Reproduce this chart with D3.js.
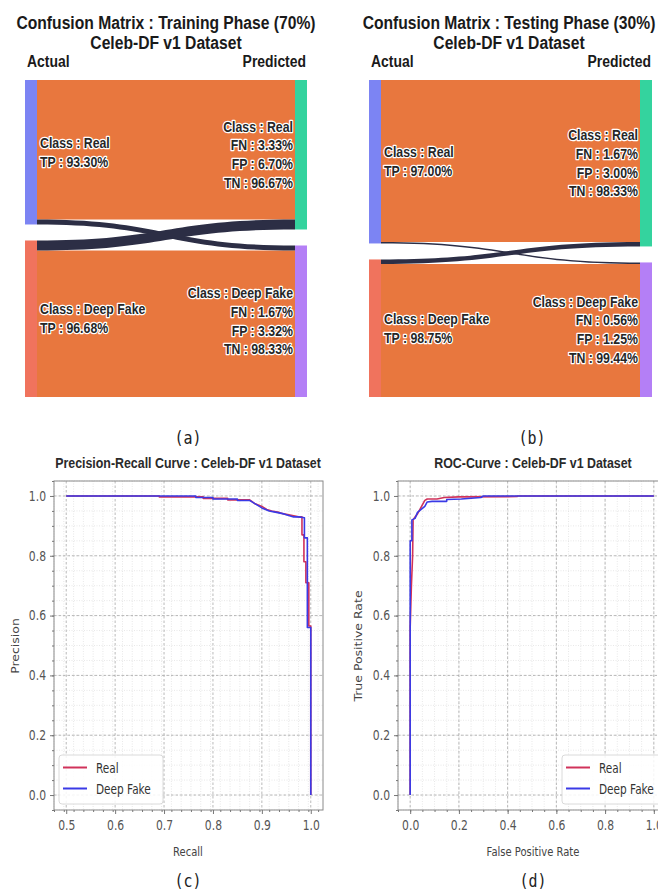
<!DOCTYPE html>
<html>
<head>
<meta charset="utf-8">
<script src="https://cdn.jsdelivr.net/npm/d3@7"></script>
<style>
  body { margin: 0; background: #fff; }
  svg { display: block; }
</style>
</head>
<body>
<svg id="fig" width="658" height="893"></svg>
<script>
// ---- confusion "sankey" data (band sizes) ----
var classes = ["Real", "Deep Fake"];
// flows[actual][predicted]
var trainFlows = [[139, 5], [10, 146]];
var testFlows = [[162.5, 1.5], [4.5, 133.5]];
var trainActual = ["TP : 93.30%", "TP : 96.68%"];
var trainPred = [["FN : 3.33%", "FP : 6.70%", "TN : 96.67%"],
                 ["FN : 1.67%", "FP : 3.32%", "TN : 98.33%"]];
var testActual = ["TP : 97.00%", "TP : 98.75%"];
var testPred = [["FN : 1.67%", "FP : 3.00%", "TN : 98.33%"],
                ["FN : 0.56%", "FP : 1.25%", "TN : 99.44%"]];

// ---- precision-recall curve ----
var prRealRecall = [0.5, 0.69, 0.69, 0.78, 0.78, 0.83, 0.83, 0.875, 0.885, 0.9, 0.91, 0.92, 0.935, 0.945, 0.96, 0.975, 0.982, 0.982, 0.986, 0.986, 0.99, 0.99, 0.996, 0.996, 1.0, 1.0];
var prRealPrecision = [1.0, 1.0, 0.997, 0.997, 0.992, 0.992, 0.987, 0.987, 0.975, 0.965, 0.955, 0.95, 0.945, 0.94, 0.935, 0.93, 0.93, 0.87, 0.87, 0.78, 0.78, 0.71, 0.71, 0.565, 0.565, 0.0];
var prFakeRecall = [0.5, 0.765, 0.765, 0.8, 0.8, 0.85, 0.85, 0.875, 0.89, 0.9, 0.915, 0.93, 0.945, 0.955, 0.965, 0.975, 0.987, 0.987, 0.993, 0.993, 1.0, 1.0];
var prFakePrecision = [1.0, 1.0, 0.995, 0.995, 0.99, 0.99, 0.985, 0.985, 0.97, 0.96, 0.95, 0.945, 0.94, 0.935, 0.93, 0.93, 0.927, 0.86, 0.86, 0.56, 0.56, 0.0];

// ---- ROC curve ----
var rocRealFpr = [0, 0, 0.005, 0.01, 0.012, 0.02, 0.03, 0.04, 0.05, 0.06, 0.07, 0.11, 0.14, 0.2, 0.44, 0.44, 1.0];
var rocRealTpr = [0, 0.56, 0.7, 0.8, 0.92, 0.93, 0.94, 0.955, 0.97, 0.985, 0.99, 0.99, 0.995, 0.997, 0.998, 1.0, 1.0];
var rocFakeFpr = [0, 0, 0.007, 0.007, 0.02, 0.03, 0.045, 0.06, 0.07, 0.09, 0.15, 0.15, 0.21, 0.29, 0.3, 1.0];
var rocFakeTpr = [0, 0.85, 0.85, 0.92, 0.925, 0.945, 0.955, 0.965, 0.98, 0.982, 0.982, 0.988, 0.99, 0.995, 1.0, 1.0];

// tick labels
var prXTicks = [0.5, 0.6, 0.7, 0.8, 0.9, 1.0];
var rocXTicks = [0.0, 0.2, 0.4, 0.6, 0.8, 1.0];
var yTicks = [0.0, 0.2, 0.4, 0.6, 0.8, 1.0];

var svg = d3.select("#fig");

// the source picture is squashed sideways, so text gets squeezed too
function squeeze(sel, k) {
  sel.attr("transform", function() {
    var x = +this.getAttribute("x") || 0, y = +this.getAttribute("y") || 0;
    return "translate(" + x + "," + y + ") scale(" + k + ",1) translate(" + (-x) + "," + (-y) + ")";
  });
}

function addText(g, x, y, txt, size, anchor, opts) {
  opts = opts || {};
  var t = g.append("text")
    .attr("x", x).attr("y", y)
    .attr("text-anchor", anchor)
    .style("font-family", opts.family || "'Liberation Sans', Arial, sans-serif")
    .style("font-size", size + "px")
    .style("font-weight", opts.weight || "normal")
    .attr("fill", opts.fill || "#222")
    .text(txt);
  if (opts.halo) {
    t.attr("stroke", "#fff").attr("stroke-width", 2.6)
      .attr("stroke-linejoin", "round").attr("paint-order", "stroke");
  }
  squeeze(t, opts.k || 0.88);
  return t;
}

// ---------------- sankey panels ----------------
function drawSankey(p) {
  var g = svg.append("g");
  var top = 80, bottom = 397, nodeW = 12, pad = 16;
  var total = d3.sum(p.flows, r => d3.sum(r));
  var y = d3.scaleLinear().domain([0, total]).range([0, bottom - top - pad]);

  var leftVals = p.flows.map(r => d3.sum(r));
  var rightVals = [0, 1].map(j => p.flows[0][j] + p.flows[1][j]);

  var leftNodes = [], rightNodes = [];
  var acc = 0;
  leftVals.forEach(function(v, i) {
    leftNodes.push({ y0: top + y(acc) + i * pad, y1: top + y(acc + v) + i * pad });
    acc += v;
  });
  acc = 0;
  rightVals.forEach(function(v, j) {
    rightNodes.push({ y0: top + y(acc) + j * pad, y1: top + y(acc + v) + j * pad });
    acc += v;
  });

  var xs = p.x0 + nodeW, xt = p.x1 - nodeW, xm = (xs + xt) / 2;
  var links = [];
  var outOff = [0, 0], inOff = [0, 0];
  for (var i = 0; i < 2; i++) {
    for (var j = 0; j < 2; j++) {
      var h = y(p.flows[i][j]);
      links.push({ i: i, j: j, sy: leftNodes[i].y0 + outOff[i], h: h });
      outOff[i] += h;
    }
  }
  // incoming order by source index
  [0, 1].forEach(function(j) {
    links.filter(l => l.j === j).sort((a, b) => a.i - b.i).forEach(function(l) {
      l.ty = rightNodes[j].y0 + inOff[j];
      inOff[j] += l.h;
    });
  });

  // draw off-diagonal (dark) bands over the big ones
  links.sort((a, b) => (a.i !== a.j) - (b.i !== b.j));
  g.selectAll("path.link").data(links).enter().append("path")
    .attr("class", "link")
    .attr("d", function(l) {
      return "M" + xs + "," + l.sy +
        "C" + xm + "," + l.sy + " " + xm + "," + l.ty + " " + xt + "," + l.ty +
        "L" + xt + "," + (l.ty + l.h) +
        "C" + xm + "," + (l.ty + l.h) + " " + xm + "," + (l.sy + l.h) + " " + xs + "," + (l.sy + l.h) + "Z";
    })
    .attr("fill", l => l.i === l.j ? "#e8773e" : "#2c2e45");

  var leftColors = ["#7c84f3", "#f0735d"], rightColors = ["#34d39e", "#b47ff6"];
  g.selectAll("rect.ln").data(leftNodes).enter().append("rect")
    .attr("x", p.x0).attr("width", nodeW)
    .attr("y", d => d.y0).attr("height", d => d.y1 - d.y0)
    .attr("fill", (d, i) => leftColors[i]);
  g.selectAll("rect.rn").data(rightNodes).enter().append("rect")
    .attr("x", xt).attr("width", nodeW)
    .attr("y", d => d.y0).attr("height", d => d.y1 - d.y0)
    .attr("fill", (d, i) => rightColors[i]);

  var lh = 18.8, fs = 14;
  var lab = { weight: "bold", halo: true, fill: "#262626", k: 0.88 };
  leftNodes.forEach(function(n, i) {
    var c = (n.y0 + n.y1) / 2;
    var lines = ["Class : " + classes[i], p.actual[i]];
    lines.forEach(function(s, k) {
      addText(g, xs + 3, c + (k - (lines.length - 1) / 2) * lh + 5, s, fs, "start", lab);
    });
  });
  rightNodes.forEach(function(n, j) {
    var c = (n.y0 + n.y1) / 2;
    var lines = ["Class : " + classes[j]].concat(p.pred[j]);
    lines.forEach(function(s, k) {
      addText(g, xt - 2, c + (k - (lines.length - 1) / 2) * lh + 5, s, fs, "end", lab);
    });
  });

  var tb = { weight: "bold", fill: "#1a1a1a", k: 0.87 };
  addText(g, p.tx, 29, p.title, 18, "middle", tb);
  addText(g, p.tx, 49, "Celeb-DF v1 Dataset", 18, "middle", tb);
  addText(g, p.x0 + 2, 67, "Actual", 16, "start", tb);
  addText(g, p.x1 - 1, 67, "Predicted", 16, "end", tb);
  addText(g, p.cx, 444, p.cap, 17, "middle",
    { family: "'DejaVu Sans Mono', monospace", fill: "#222", k: 0.88 });
}

drawSankey({ x0: 25, x1: 307, tx: 166, cx: 188, flows: trainFlows, actual: trainActual, pred: trainPred,
  title: "Confusion Matrix : Training Phase (70%)", cap: "(a)" });
drawSankey({ x0: 369, x1: 652, tx: 509, cx: 532, flows: testFlows, actual: testActual, pred: testPred,
  title: "Confusion Matrix : Testing Phase (30%)", cap: "(b)" });

// ---------------- curve panels ----------------
function drawCurve(p) {
  var g = svg.append("g");
  var top = 481, bottom = 810;
  var x = d3.scaleLinear().domain(p.xDomain).range([p.left, p.right]);
  var y = d3.scaleLinear().domain([-0.05, 1.05]).range([bottom, top]);
  var inX = v => v >= p.xDomain[0] && v <= p.xDomain[1];

  var xMinor = d3.range(p.xDomain[0] - 0.1, p.xDomain[1] + 0.1, p.xMinor)
    .map(v => Math.round(v * 1000) / 1000).filter(inX);
  var yMinor = d3.range(-0.05, 1.06, 0.05).map(v => Math.round(v * 1000) / 1000);

  // minor grid
  g.selectAll("line.gxm").data(xMinor).enter().append("line")
    .attr("x1", d => x(d)).attr("x2", d => x(d)).attr("y1", top).attr("y2", bottom)
    .attr("stroke", "#d9d9d9").attr("stroke-width", 0.6).attr("stroke-dasharray", "1,1.5");
  g.selectAll("line.gym").data(yMinor).enter().append("line")
    .attr("y1", d => y(d)).attr("y2", d => y(d)).attr("x1", p.left).attr("x2", p.right)
    .attr("stroke", "#d9d9d9").attr("stroke-width", 0.6).attr("stroke-dasharray", "1,1.5");
  // major grid
  g.selectAll("line.gx").data(p.xTicks).enter().append("line")
    .attr("x1", d => x(d)).attr("x2", d => x(d)).attr("y1", top).attr("y2", bottom)
    .attr("stroke", "#a8a8a8").attr("stroke-width", 0.8).attr("stroke-dasharray", "2.5,2");
  g.selectAll("line.gy").data(yTicks).enter().append("line")
    .attr("y1", d => y(d)).attr("y2", d => y(d)).attr("x1", p.left).attr("x2", p.right)
    .attr("stroke", "#a8a8a8").attr("stroke-width", 0.8).attr("stroke-dasharray", "2.5,2");

  var line = d3.line().x(d => x(d[0])).y(d => y(d[1]));
  p.series.forEach(function(s) {
    g.append("path")
      .datum(d3.zip(s.xs, s.ys))
      .attr("d", line)
      .attr("fill", "none")
      .attr("stroke", s.color)
      .attr("stroke-width", 1.6)
      .attr("stroke-linejoin", "round");
  });

  g.append("rect").attr("x", p.left).attr("y", top)
    .attr("width", p.right - p.left).attr("height", bottom - top)
    .attr("fill", "none").attr("stroke", "#8a8a8a").attr("stroke-width", 1);

  // axes
  var fmt = d3.format(".1f");
  var xAxis = g.append("g").attr("transform", "translate(0," + bottom + ")")
    .call(d3.axisBottom(x).tickValues(p.xTicks).tickFormat(fmt).tickSize(4).tickPadding(6));
  g.append("g").attr("transform", "translate(0," + bottom + ")")
    .call(d3.axisBottom(x).tickValues(xMinor).tickFormat("").tickSize(2));
  var yAxis = g.append("g").attr("transform", "translate(" + p.left + ",0)")
    .call(d3.axisLeft(y).tickValues(yTicks).tickFormat(fmt).tickSize(4).tickPadding(4));
  g.append("g").attr("transform", "translate(" + p.left + ",0)")
    .call(d3.axisLeft(y).tickValues(yMinor).tickFormat("").tickSize(2));
  g.selectAll(".domain").remove();
  g.selectAll(".tick line").attr("stroke", "#777");
  g.selectAll(".tick text")
    .style("font-family", "'DejaVu Sans', sans-serif")
    .style("font-size", "13.5px")
    .attr("fill", "#555");
  squeeze(xAxis.selectAll(".tick text"), 0.8);
  squeeze(yAxis.selectAll(".tick text"), 0.8);

  addText(g, p.cx, 468, p.title, 15.5, "middle", { weight: "bold", fill: "#2a2a2a", k: 0.8 });
  addText(g, p.cx, 856, p.xLabel, 12.5, "middle",
    { family: "'DejaVu Sans', sans-serif", fill: "#444", k: 0.8 });
  g.append("text")
    .attr("transform", "translate(" + p.yLabelX + ",646) scale(0.8,1) rotate(-90)")
    .attr("text-anchor", "middle")
    .style("font-family", "'DejaVu Sans', sans-serif")
    .style("font-size", "12.5px")
    .attr("fill", "#444")
    .text(p.yLabel);

  // legend
  var lg = g.append("g");
  lg.append("rect").attr("x", p.legX).attr("y", 755).attr("width", 104).attr("height", 49)
    .attr("rx", 3).attr("fill", "#fff").attr("fill-opacity", 0.85)
    .attr("stroke", "#d0d0d0").attr("stroke-width", 0.8);
  p.series.forEach(function(s, i) {
    var ly = 767.5 + i * 21;
    lg.append("line").attr("x1", p.legX + 4).attr("x2", p.legX + 28)
      .attr("y1", ly).attr("y2", ly).attr("stroke", s.color).attr("stroke-width", 2);
    addText(lg, p.legX + 37, ly + 5.5, s.name, 13.5, "start",
      { family: "'DejaVu Sans', sans-serif", fill: "#333", k: 0.78 });
  });

  addText(g, p.cx, 887, p.cap, 17, "middle",
    { family: "'DejaVu Sans Mono', monospace", fill: "#222", k: 0.88 });
}

var redC = "#d0325a", blueC = "#3a3ae6";

drawCurve({
  left: 54, right: 323, xDomain: [0.475, 1.025], xTicks: prXTicks, xMinor: 0.02,
  cx: 188, title: "Precision-Recall Curve : Celeb-DF v1 Dataset",
  xLabel: "Recall", yLabel: "Precision", yLabelX: 19, legX: 59, cap: "(c)",
  series: [
    { name: "Real", xs: prRealRecall, ys: prRealPrecision, color: redC },
    { name: "Deep Fake", xs: prFakeRecall, ys: prFakePrecision, color: blueC }
  ]
});

drawCurve({
  left: 398, right: 666, xDomain: [-0.05, 1.05], xTicks: rocXTicks, xMinor: 0.05,
  cx: 533, title: "ROC-Curve : Celeb-DF v1 Dataset",
  xLabel: "False Positive Rate", yLabel: "True Positive Rate", yLabelX: 362, legX: 562, cap: "(d)",
  series: [
    { name: "Real", xs: rocRealFpr, ys: rocRealTpr, color: redC },
    { name: "Deep Fake", xs: rocFakeFpr, ys: rocFakeTpr, color: blueC }
  ]
});
</script>
</body>
</html>
